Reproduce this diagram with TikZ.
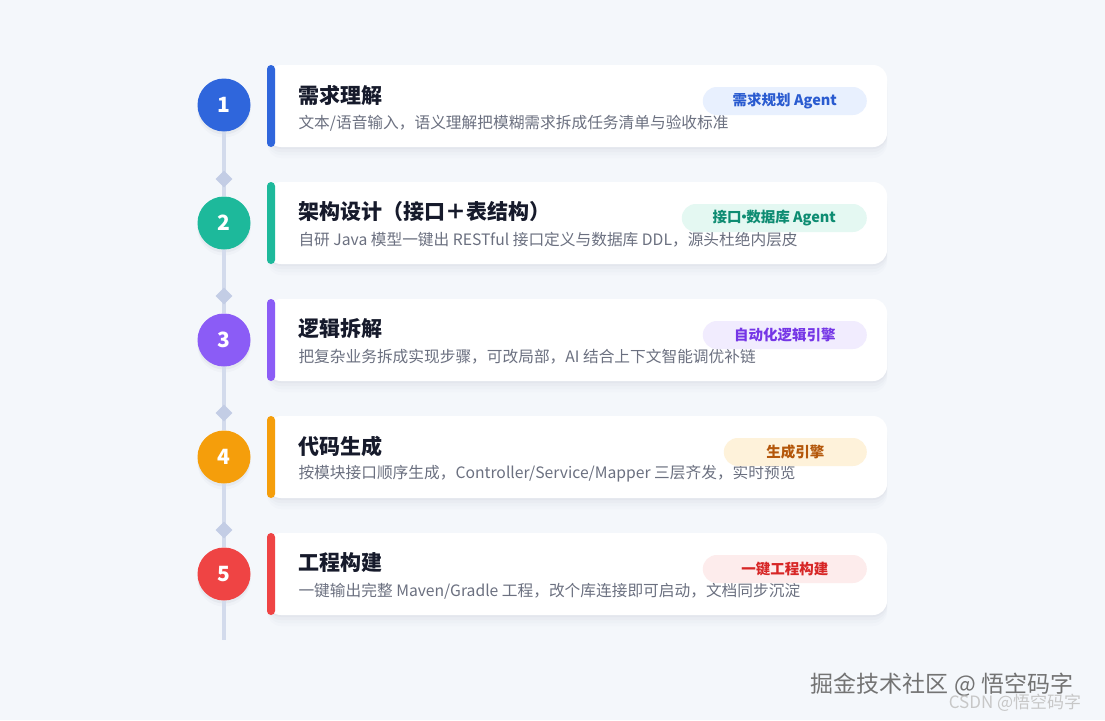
\documentclass[tikz,border=0pt]{standalone}
\usepackage{fontspec}
\setmainfont{Noto Sans CJK SC}
\usetikzlibrary{shapes.geometric}
\definecolor{bgcol}{HTML}{F4F7FB}
\definecolor{shadecol}{HTML}{5A6680}
\definecolor{spinecol}{HTML}{D3DBEC}
\definecolor{diamcol}{HTML}{C3CDE5}
\definecolor{titlecol}{HTML}{161A2B}
\definecolor{desccol}{HTML}{6B7080}
\definecolor{bluecol}{HTML}{2F66DC}
\definecolor{bluebg}{HTML}{E8F0FE}
\definecolor{bluetxt}{HTML}{2A5BD0}
\definecolor{tealcol}{HTML}{1DB99B}
\definecolor{tealbg}{HTML}{E4F8F2}
\definecolor{tealtxt}{HTML}{0E8C72}
\definecolor{purplecol}{HTML}{8B5CF6}
\definecolor{purplebg}{HTML}{F1ECFE}
\definecolor{purpletxt}{HTML}{7536E6}
\definecolor{orangecol}{HTML}{F59E0B}
\definecolor{orangebg}{HTML}{FEF2DA}
\definecolor{orangetxt}{HTML}{B4570A}
\definecolor{redcol}{HTML}{EF4444}
\definecolor{redbg}{HTML}{FDECEC}
\definecolor{redtxt}{HTML}{D72626}
\tikzset{
  softshade/.style={preaction={fill=shadecol,fill opacity=0.035,transform canvas={yshift=-2pt}},
    preaction={fill=shadecol,fill opacity=0.03,transform canvas={yshift=-5pt}},
    preaction={fill=shadecol,fill opacity=0.02,transform canvas={yshift=-8pt}},
    preaction={fill=shadecol,fill opacity=0.015,transform canvas={yshift=-11pt}}},
  card/.style={fill=white,rounded corners=14pt,minimum width=620pt,minimum height=82pt,softshade},
  accent/.style={rounded corners=4pt,minimum width=8pt,minimum height=82pt,inner sep=0pt},
  stepnum/.style={circle,minimum size=53pt,inner sep=0pt,text=white,font=\fontsize{21}{21}\selectfont\bfseries,
    preaction={fill=shadecol,fill opacity=0.06,transform canvas={yshift=-3pt}},
    preaction={fill=shadecol,fill opacity=0.03,transform canvas={yshift=-6pt}}},
  diam/.style={diamond,fill=diamcol,minimum size=17pt,inner sep=0pt},
  spine/.style={spinecol,line width=4.5pt},
  title/.style={anchor=west,text=titlecol,font=\fontsize{21}{21}\selectfont\bfseries},
  desc/.style={anchor=west,text=desccol,font=\fontsize{15.7}{16}\selectfont},
  badge/.style={anchor=east,rounded corners=14pt,minimum height=28pt,inner sep=0pt,font=\fontsize{14.5}{15}\selectfont\bfseries},
}
\begin{document}
\begin{tikzpicture}[x=1pt,y=-1pt]
\fill[bgcol] (0,0) rectangle (1105,720);
\useasboundingbox (0,0) rectangle (1105,720);

% cards
\node[card] (c1) at (577,106) {};
\node[card] (c2) at (577,223) {};
\node[card] (c3) at (577,340) {};
\node[card] (c4) at (577,457) {};
\node[card] (c5) at (577,574) {};
\node[accent,fill=bluecol] (a1) at (271,106) {};
\node[accent,fill=tealcol] (a2) at (271,223) {};
\node[accent,fill=purplecol] (a3) at (271,340) {};
\node[accent,fill=orangecol] (a4) at (271,457) {};
\node[accent,fill=redcol] (a5) at (271,574) {};

% texts
\node[title] (t1) at (295,95) {需求理解};
\node[desc] (s1) at (295,123) {文本/语音输入，语义理解把模糊需求拆成任务清单与验收标准};
\node[title] (t2) at (295,212) {架构设计（接口＋表结构）};
\node[desc] (s2) at (295,240) {自研 Java 模型一键出 RESTful 接口定义与数据库 DDL，源头杜绝内层皮};
\node[title] (t3) at (295,329) {逻辑拆解};
\node[desc] (s3) at (295,357) {把复杂业务拆成实现步骤，可改局部，AI 结合上下文智能调优补链};
\node[title] (t4) at (295,446) {代码生成};
\node[desc] (s4) at (295,474) {按模块接口顺序生成，Controller/Service/Mapper 三层齐发，实时预览};
\node[title] (t5) at (295,563) {工程构建};
\node[desc] (s5) at (295,591) {一键输出完整 Maven/Gradle 工程，改个库连接即可启动，文档同步沉淀};

% badges
\node[badge,fill=bluebg,text=bluetxt,minimum width=164pt] (g1) at (867,101) {需求规划 Agent};
\node[badge,fill=tealbg,text=tealtxt,minimum width=185pt] (g2) at (867,218) {接口\hspace{-5pt}·\hspace{-5pt}数据库 Agent};
\node[badge,fill=purplebg,text=purpletxt,minimum width=164pt] (g3) at (867,335) {自动化逻辑引擎};
\node[badge,fill=orangebg,text=orangetxt,minimum width=143pt] (g4) at (867,452) {生成引擎};
\node[badge,fill=redbg,text=redtxt,minimum width=164pt] (g5) at (867,569) {一键工程构建};

% timeline
\coordinate (e5) at (224,640);
\node[stepnum,fill=bluecol] (n1) at (224,105) {1};
\node[stepnum,fill=tealcol] (n2) at (224,223) {2};
\node[stepnum,fill=purplecol] (n3) at (224,340) {3};
\node[stepnum,fill=orangecol] (n4) at (224,457) {4};
\node[stepnum,fill=redcol] (n5) at (224,574) {5};
\draw[spine] (n1.south) -- (n2.north);
\draw[spine] (n2.south) -- (n3.north);
\draw[spine] (n3.south) -- (n4.north);
\draw[spine] (n4.south) -- (n5.north);
\draw[spine] (n5.south) -- (e5);
\node[diam] (d1) at (224,179) {};
\node[diam] (d2) at (224,296) {};
\node[diam] (d3) at (224,413) {};
\node[diam] (d4) at (224,530) {};

% watermark
\node[text=black!55,font=\fontsize{23}{23}\selectfont] (w1) at (942,685) {掘金技术社区 @ 悟空码字};
\node[text=black!22,font=\fontsize{17}{17}\selectfont] (w2) at (1015,703) {CSDN @悟空码字};
\end{tikzpicture}
\end{document}
